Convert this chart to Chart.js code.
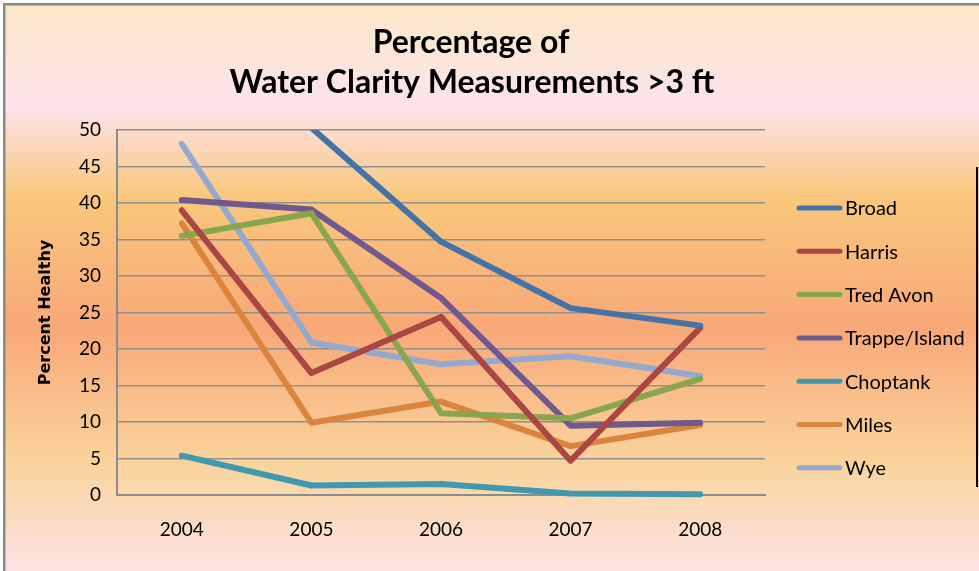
<!DOCTYPE html>
<html>
<head>
<meta charset="utf-8">
<script src="https://cdn.jsdelivr.net/npm/chart.js@4.4.0/dist/chart.umd.min.js"></script>
<style>
  html, body { margin: 0; padding: 0; background: #fff; }
  #wrap { width: 979px; height: 571px; position: relative; }
</style>
</head>
<body>
<div id="wrap"><canvas id="c" width="979" height="571"></canvas></div>
<script>
const years = ['2004', '2005', '2006', '2007', '2008'];
const broad = [null, 50.3, 34.7, 25.6, 23.2];
const harris = [39.0, 16.7, 24.4, 4.7, 22.9];
const tredAvon = [35.5, 38.6, 11.2, 10.5, 15.9];
const trappeIsland = [40.4, 39.1, 27.0, 9.5, 9.9];
const choptank = [5.4, 1.3, 1.5, 0.2, 0.1];
const miles = [37.2, 9.9, 12.8, 6.7, 9.6];
const wye = [48.1, 20.9, 17.9, 19.0, 16.3];
const titleLines = ['Percentage of', 'Water Clarity Measurements >3 ft'];
const yTitle = 'Percent Healthy';

const seriesNames = ['Broad', 'Harris', 'Tred Avon', 'Trappe/Island', 'Choptank', 'Miles', 'Wye'];
const seriesValues = [broad, harris, tredAvon, trappeIsland, choptank, miles, wye];
const seriesColors = ['#4572A7', '#AA4643', '#89A54E', '#71588F', '#4198AF', '#DB843D', '#93A9CF'];

const datasets = seriesNames.map((name, i) => ({
  label: name,
  data: seriesValues[i],
  borderColor: seriesColors[i],
  backgroundColor: seriesColors[i],
  borderWidth: 6,
  borderCapStyle: 'round',
  borderJoinStyle: 'round',
  pointRadius: 0,
  pointHoverRadius: 0,
  tension: 0,
  fill: false,
  clip: { left: 10, top: 0, right: 10, bottom: 10 }
}));

const decor = {
  id: 'decor',
  beforeDraw(chart) {
    const ctx = chart.ctx;
    const W = chart.width, H = chart.height;
    ctx.save();
    ctx.fillStyle = '#ffffff';
    ctx.fillRect(0, 0, W, H);
    const g = ctx.createLinearGradient(0, 5, 0, H);
    g.addColorStop(0.00, '#FBE8C8');
    g.addColorStop(0.08, '#FCE6D6');
    g.addColorStop(0.18, '#FDE3EB');
    g.addColorStop(0.34, '#F9C77C');
    g.addColorStop(0.57, '#F8A878');
    g.addColorStop(0.81, '#F9D49C');
    g.addColorStop(1.00, '#FDE3E5');
    ctx.fillStyle = g;
    ctx.fillRect(5, 5, W - 5, H - 5);
    // frame
    ctx.fillStyle = '#8a8a8a';
    ctx.fillRect(3, 3, W - 3, 2.5);
    ctx.fillRect(3, 3, 2.5, H - 3);
    ctx.fillStyle = '#000000';
    ctx.fillRect(976, 167, 2, 320);
    ctx.restore();
  },
  afterDraw(chart) {
    const ctx = chart.ctx;
    ctx.save();
    // title
    ctx.fillStyle = '#000';
    ctx.textAlign = 'center';
    ctx.textBaseline = 'middle';
    ctx.font = 'bold 32px Lato';
    ctx.fillText(titleLines[0], 471, 43);
    ctx.fillText(titleLines[1], 472, 83);
    // legend
    ctx.font = '20px Lato';
    ctx.textAlign = 'left';
    chart.data.datasets.forEach((ds, i) => {
      const y = 208 + i * 43.3;
      ctx.strokeStyle = ds.borderColor;
      ctx.lineWidth = 5;
      ctx.lineCap = 'round';
      ctx.beginPath();
      ctx.moveTo(799, y);
      ctx.lineTo(840, y);
      ctx.stroke();
      ctx.fillStyle = '#000';
      ctx.fillText(ds.label, 845, y + 1);
    });
    ctx.restore();
  }
};

new Chart(document.getElementById('c'), {
  type: 'line',
  data: { labels: years, datasets },
  plugins: [decor],
  options: {
    responsive: false,
    animation: false,
    devicePixelRatio: 1,
    layout: { padding: { left: 6, top: 130, right: 214, bottom: 0 } },
    plugins: {
      legend: { display: false },
      title: { display: false },
      tooltip: { enabled: false }
    },
    scales: {
      x: {
        offset: true,
        grid: { display: false, drawTicks: false },
        border: { display: true, color: '#8c8c8c', width: 2 },
        ticks: { color: '#000', font: { family: 'Lato', size: 19 }, padding: 23, maxRotation: 0 },
        afterFit: (s) => { s.height = 76; }
      },
      y: {
        min: 0,
        max: 50,
        ticks: { stepSize: 5, color: '#000', font: { family: 'Lato', size: 19 }, padding: 16 },
        grid: { color: '#8f8f8f', lineWidth: 1.5, drawTicks: false },
        border: { display: true, color: '#8c8c8c', width: 2 },
        title: {
          display: true,
          text: yTitle,
          color: '#000',
          font: { family: 'DejaVu Sans', size: 16, weight: 'bold' },
          padding: { top: 30, bottom: 0 }
        },
        afterFit: (s) => { s.width = 111; }
      }
    }
  }
});
</script>
</body>
</html>
